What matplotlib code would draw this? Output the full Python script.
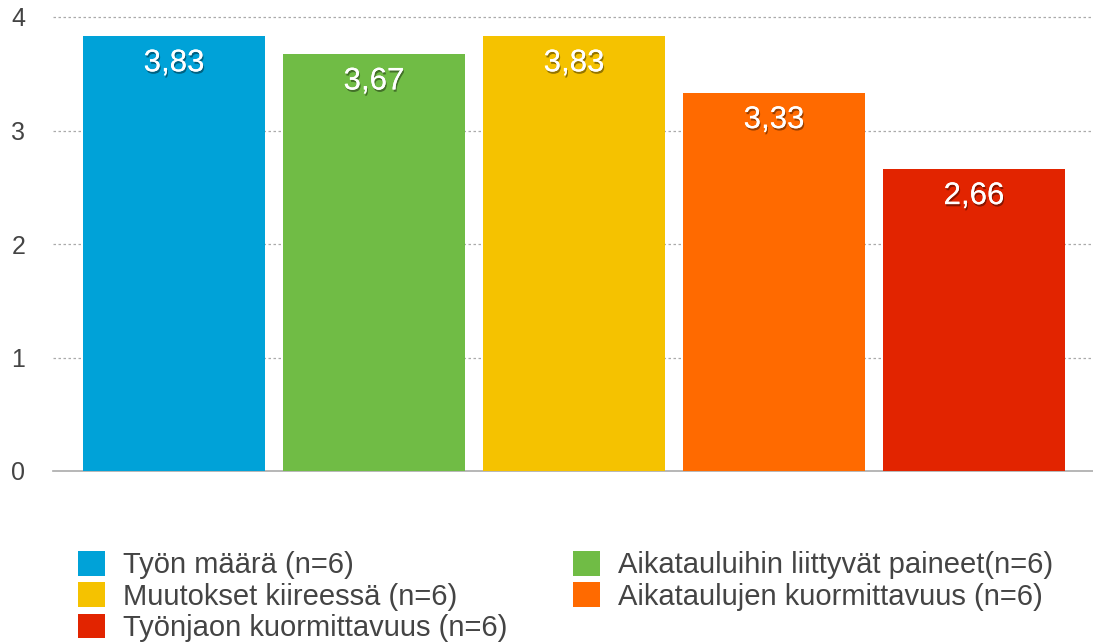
import matplotlib.pyplot as plt
import matplotlib.patheffects as pe
from matplotlib.patches import Patch

plt.rcParams['font.family'] = ['Liberation Sans', 'DejaVu Sans']

labels = ['Työn määrä (n=6)', 'Aikatauluihin liittyvät paineet(n=6)',
          'Muutokset kiireessä (n=6)', 'Aikataulujen kuormittavuus (n=6)',
          'Työnjaon kuormittavuus (n=6)']
values = [3.83, 3.67, 3.83, 3.33, 2.66]
value_text = ['3,83', '3,67', '3,83', '3,33', '2,66']
colors = ['#00A2D8', '#70BC45', '#F5C200', '#FF6A00', '#E22400']
yticks = [0, 1, 2, 3, 4]

fig = plt.figure(figsize=(10.93, 6.42), dpi=100)
ax = fig.add_axes([53/1093, 1-471/642, 1-53/1093, (471-17)/642])

x = list(range(len(values)))
bars = ax.bar(x, values, width=0.91, color=colors, zorder=3)

shadow = [pe.withSimplePatchShadow(offset=(0.8, -1.6), shadow_rgbFace='black', alpha=0.4),
          pe.Normal()]
for xi, v, t in zip(x, values, value_text):
    ax.annotate(t, (xi, v), xytext=(0, -27), textcoords='offset pixels',
                ha='center', va='center', color='white', fontsize=22.5, zorder=4,
                path_effects=shadow)

ax.set_xlim(-0.605, 4.595)
ax.set_ylim(0, 4)
ax.set_yticks(yticks)
ax.set_yticklabels([str(t) for t in yticks], fontsize=18, color='#444444')
ax.tick_params(axis='y', length=0, pad=20)
ax.set_xticks([])
for s in ['top', 'right', 'left']:
    ax.spines[s].set_visible(False)
ax.spines['bottom'].set_color('#aaaaaa')
ax.spines['bottom'].set_linewidth(1.2)
for t in yticks[1:]:
    ax.axhline(t, color='#aaaaaa', linestyle=(0, (2, 2)), linewidth=0.9, zorder=1, clip_on=False)

legend_kw = dict(loc='upper left', frameon=False, fontsize=21, borderpad=0, borderaxespad=0,
                 handlelength=0.93, handleheight=0.93, handletextpad=0.62,
                 labelspacing=0.1, labelcolor='#444444')
col1 = [0, 2, 4]
col2 = [1, 3]
fig.legend([Patch(facecolor=colors[i], edgecolor='none') for i in col1],
           [labels[i] for i in col1], bbox_to_anchor=(78/1093, 1-551/642), **legend_kw)
fig.legend([Patch(facecolor=colors[i], edgecolor='none') for i in col2],
           [labels[i] for i in col2], bbox_to_anchor=(573/1093, 1-551/642), **legend_kw)

fig.savefig('out.png', dpi=100)
